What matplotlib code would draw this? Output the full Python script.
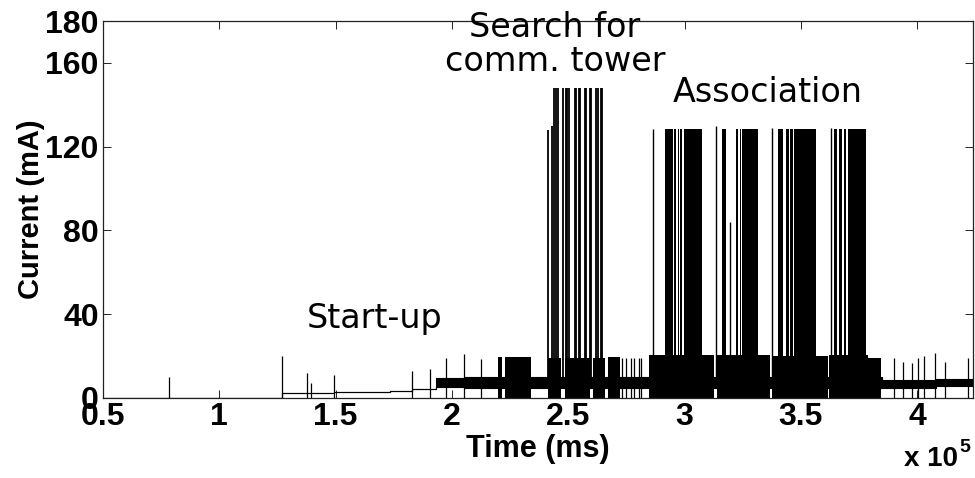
import matplotlib.pyplot as plt
from matplotlib import font_manager

# time in units of 1e5 ms, current in mA
base_t = [0.5, 1.2702, 1.3776, 1.4936, 1.7328, 1.8286, 1.9334, 2.05, 3.8505, 4.0812, 4.24]
base_lo = [0, 2.2, 2.6, 3.0, 3.3, 4.3, 5.4, 4.8, 5.0, 5.5, 5.5]
base_hi = [0, 2.2, 2.6, 3.0, 3.3, 4.3, 9.5, 10.0, 8.6, 9.0, 9.0]

# isolated short spikes
spike_t = [0.7835, 1.2702, 1.3776, 1.3922, 1.4936, 1.8286, 1.9046, 1.9764, 2.0520, 2.1267,
           2.7324, 2.7496, 2.7711, 2.7809, 2.8037, 2.8140, 2.8527,
           3.9021, 3.9377, 3.9781, 4.0022, 4.0279, 4.0773, 4.1211, 4.2169]
spike_i = [10, 20, 12, 7, 11, 13, 14, 19, 21, 18.8,
           19, 19, 19, 19, 19, 19, 19,
           19, 17.4, 16.6, 19, 20, 21.5, 17.4, 19]

# dense ~20 mA activity
mid_start = [2.1980, 2.2268, 2.4128, 2.4845, 2.6061, 2.6705,
             2.8466, 3.1388, 3.3767, 3.6199, 3.7874]
mid_end = [2.2169, 2.3415, 2.4704, 2.5919, 2.6564, 2.7208,
           3.1246, 3.3651, 3.6156, 3.7874, 3.8462]
mid_top = [19.5, 19.5, 19, 19, 19, 19.4,
           20.5, 20.5, 20, 20.5, 19]

# search for comm. tower
search_t = [2.4128, 2.4317, 2.4373, 2.4489, 2.4558, 2.4773, 2.4888, 2.4944, 2.5030, 2.5275,
            2.5348, 2.5460, 2.5520, 2.5705, 2.5778, 2.5920, 2.5993, 2.6207, 2.6276, 2.6392,
            2.6465]
search_i = [128, 130, 148, 148, 148, 148, 148, 148, 148, 148,
            148, 148, 148, 148, 148, 148, 148, 148, 148, 148,
            148]

# association bursts
assoc_start = [2.9154, 2.9557, 2.9712, 2.9815, 2.9957,
               3.1602, 3.2221, 3.2363, 3.2479,
               3.4008, 3.4369, 3.4540, 3.4725,
               3.6414, 3.6628, 3.6873, 3.7015]
assoc_end = [2.9497, 2.9626, 2.9755, 2.9871, 3.0760,
             3.1791, 3.2307, 3.2436, 3.3149,
             3.4223, 3.4480, 3.4652, 3.5657,
             3.6543, 3.6774, 3.6946, 3.7805]
assoc_top = 128.5
assoc_single_t = [2.8638, 3.1362, 3.1933, 3.3767, 3.6302]
assoc_single_i = [128.6, 130, 84, 129, 129]


def pick(name, fallback):
    names = {f.name for f in font_manager.fontManager.ttflist}
    return name if name in names else fallback


sans = 'Liberation Sans'
narrow = pick('Liberation Sans Narrow', sans)

fig = plt.figure(figsize=(9.75, 4.78), dpi=100)
ax = fig.add_axes([0.1056, 0.1674, 0.8924, 0.7886])

ax.fill_between(base_t, base_lo, base_hi, step='post', color='k', lw=0.8)
ax.bar(mid_start, mid_top, width=[e - s for s, e in zip(mid_start, mid_end)],
       align='edge', color='k', lw=0)
ax.bar(assoc_start, assoc_top, width=[e - s for s, e in zip(assoc_start, assoc_end)],
       align='edge', color='k', lw=0)
ax.vlines(spike_t, 0, spike_i, color='k', lw=0.9)
ax.vlines(search_t, 5, search_i, color='k', lw=1.3)
ax.vlines(assoc_single_t, 5, assoc_single_i, color='k', lw=1.0)

ax.set_xlim(0.5, 4.24)
ax.set_ylim(0, 180)
ax.set_xticks([0.5, 1, 1.5, 2, 2.5, 3, 3.5, 4])
ax.set_xticklabels(['0.5', '1', '1.5', '2', '2.5', '3', '3.5', '4'],
                   family=narrow, weight='bold', size=23)
ax.set_yticks([0, 40, 80, 120, 160, 180])
ax.set_yticklabels(['0', '40', '80', '120', '160', '180'],
                   family=sans, weight='bold', size=23)
ax.tick_params(direction='in', length=6, width=0.6, top=True, right=True, pad=3)
ax.tick_params(axis='x', pad=3)
for s in ax.spines.values():
    s.set_linewidth(0.9)
    s.set_color('#222222')

ax.set_xlabel('Time (ms)', family=narrow, weight='bold', size=22, labelpad=1)
ax.set_ylabel('Current (mA)', family=sans, weight='bold', size=21, labelpad=0)

fig.text(0.927, 0.012, 'x 10', family=sans, weight='bold', size=20, ha='left', va='bottom')
fig.text(0.984, 0.045, '5', family=sans, weight='bold', size=14, ha='left', va='bottom')

ax.text(1.668, 38, 'Start-up', size=24, ha='center', va='center', family='DejaVu Sans')
ax.text(2.442, 176.7, 'Search for', size=24, ha='center', va='center', family='DejaVu Sans', clip_on=False)
ax.text(2.442, 160.5, 'comm. tower', size=24, ha='center', va='center', family='DejaVu Sans')
ax.text(3.357, 146, 'Association', size=24, ha='center', va='center', family='DejaVu Sans')

fig.savefig('out.png', dpi=100)
